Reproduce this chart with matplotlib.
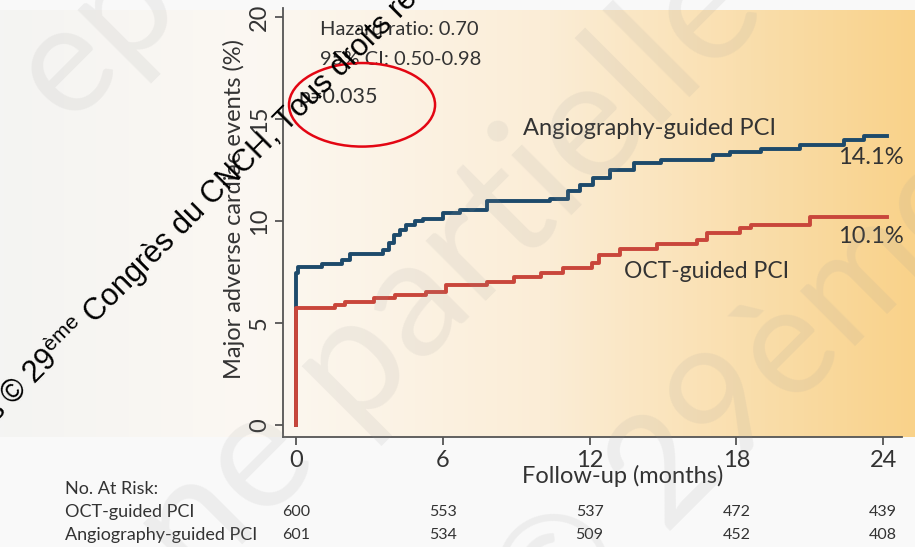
import matplotlib
matplotlib.use("Agg")
import matplotlib.pyplot as plt
import numpy as np
from matplotlib.colors import LinearSegmentedColormap
from matplotlib.patches import Ellipse

plt.rcParams['font.family'] = ['Lato', 'DejaVu Sans']
plt.rcParams['mathtext.fontset'] = 'custom'
plt.rcParams['mathtext.rm'] = 'Liberation Sans'

# Kaplan-Meier step curves (months, %)
angio_t = [0, 0, 0.1, 1.05, 1.9, 2.2, 3.55, 3.8, 4.0, 4.25, 4.5, 4.85, 5.2, 6.0, 6.7,
           7.8, 10.4, 11.1, 11.6, 12.15, 12.85, 13.8, 14.9, 17.05, 17.75, 19.0, 20.6,
           22.4, 23.2, 24.15]
angio_v = [0, 7.45, 7.75, 7.9, 8.1, 8.4, 8.6, 8.9, 9.3, 9.55, 9.8, 10.0, 10.1, 10.4, 10.55,
           11.0, 11.1, 11.45, 11.75, 12.1, 12.5, 12.85, 13.0, 13.25, 13.4, 13.55, 13.75,
           13.95, 14.15, 14.15]
oct_t = [0, 0, 1.6, 2.0, 3.2, 4.05, 5.3, 6.15, 7.8, 8.9, 10.0, 10.9, 12.1, 12.4, 13.25,
         14.75, 16.4, 16.8, 18.15, 18.6, 21.0, 24.15]
oct_v = [0, 5.75, 5.9, 6.0, 6.2, 6.37, 6.53, 6.86, 7.02, 7.27, 7.43, 7.68, 7.92, 8.33, 8.62,
         8.87, 9.07, 9.4, 9.64, 9.8, 10.18, 10.18]

risk_months = [0, 6, 12, 18, 24]
risk_oct = [600, 553, 537, 472, 439]
risk_angio = [601, 534, 509, 452, 408]

blue = '#1d4a6b'
red = '#c9463b'
tc = '#333333'

fig = plt.figure(figsize=(9.15, 5.47), dpi=100)
fig.patch.set_facecolor('#f9f9f9')

# gradient background behind the plot
bg = fig.add_axes([0, 1 - 437 / 547, 1, (437 - 10) / 547], zorder=0)
cmap = LinearSegmentedColormap.from_list(
    'bg', [(0, '#f4f4f3'), (0.28, '#fcf8f2'), (0.6, '#fbedd6'), (1, '#f9d28a')])
bg.imshow(np.linspace(0, 1, 256)[None, :], aspect='auto', cmap=cmap,
          extent=[0, 1, 0, 1])
bg.axis('off')

ax = fig.add_axes([283 / 915, 1 - 437 / 547, (902 - 283) / 915, (437 - 8) / 547], zorder=1)
ax.patch.set_alpha(0)

ax.step(angio_t, angio_v, where='post', color=blue, lw=2.8)
ax.step(oct_t, oct_v, where='post', color=red, lw=2.8)

ax.set_xlim(-0.53, 24.77)
ax.set_ylim(-0.6, 20.45)
ax.set_xticks([0, 6, 12, 18, 24])
ax.set_yticks([0, 5, 10, 15, 20])
for s in ['top', 'right']:
    ax.spines[s].set_visible(False)
for s in ['left', 'bottom']:
    ax.spines[s].set_color('#555555')
    ax.spines[s].set_linewidth(1.3)
ax.tick_params(colors='#555555', length=6, width=1.3, labelsize=17, labelcolor=tc)
for lab in ax.get_yticklabels():
    lab.set_rotation(90)
    lab.set_va('center')
ax.set_xlabel('Follow-up (months)', fontsize=17, color=tc)
ax.xaxis.set_label_coords(0.548, -0.066)
ax.set_ylabel('Major adverse cardiac events (%)', fontsize=17, color=tc)
ax.yaxis.set_label_coords(-0.062, 0.531)

ax.text(1.0, 19.4, 'Hazard ratio: 0.70', fontsize=14.5, color=tc, va='center')
ax.text(1.0, 17.9, '95% CI: 0.50-0.98', fontsize=14.5, color=tc, va='center')
ax.text(0.1, 16.1, 'p=0.035', fontsize=15.5, color=tc, va='center')
ax.text(14.47, 14.56, 'Angiography-guided PCI', fontsize=17, color=tc, ha='center', va='center')
ax.text(23.5, 13.09, '14.1%', fontsize=17, color=tc, ha='center', va='center')
ax.text(23.5, 9.26, '10.1%', fontsize=17, color=tc, ha='center', va='center')
ax.text(16.8, 7.5, 'OCT-guided PCI', fontsize=16.5, color=tc, ha='center', va='center')

ax.add_patch(Ellipse((2.7, 15.7), 5.97, 4.1, fill=False, ec='#e30613', lw=1.8,
                     clip_on=False, zorder=5))

# number at risk table
fig.text(65 / 915, 1 - 489 / 547, 'No. At Risk:', fontsize=13, color=tc, va='center')
fig.text(65 / 915, 1 - 512 / 547, 'OCT-guided PCI', fontsize=13, color=tc, va='center')
fig.text(65 / 915, 1 - 535 / 547, 'Angiography-guided PCI', fontsize=13, color=tc, va='center')
for m, a, b in zip(risk_months, risk_oct, risk_angio):
    xf = ax.transData.transform((m, 0))[0] / fig.bbox.width
    fig.text(xf, 1 - 512 / 547, str(a), fontsize=11.5, color=tc, ha='center', va='center')
    fig.text(xf, 1 - 535 / 547, str(b), fontsize=11.5, color=tc, ha='center', va='center')

# watermarks
fig.text(450 / 915, 1 - 270 / 547, 'ne partielle', fontsize=120, color='#9a9a9a',
         alpha=0.12, rotation=45, ha='center', va='center')
fig.text(740 / 915, 1 - 400 / 547, '© 29ème', fontsize=110, color='#9a9a9a',
         alpha=0.12, rotation=45, ha='center', va='center')
fig.text(95 / 915, 1 - 35 / 547, 'ep', fontsize=110, color='#9a9a9a',
         alpha=0.12, rotation=45, ha='center', va='center')
fig.text(-3 / 915, 1 - 424 / 547,
         r's © 29$^{\mathrm{ème}}$ Congrès du CNCH, Tous droits réservés',
         fontsize=22, family='Liberation Sans', color='black', rotation=45,
         ha='left', va='baseline', rotation_mode='anchor', zorder=10)

fig.savefig('out.png', dpi=100)
